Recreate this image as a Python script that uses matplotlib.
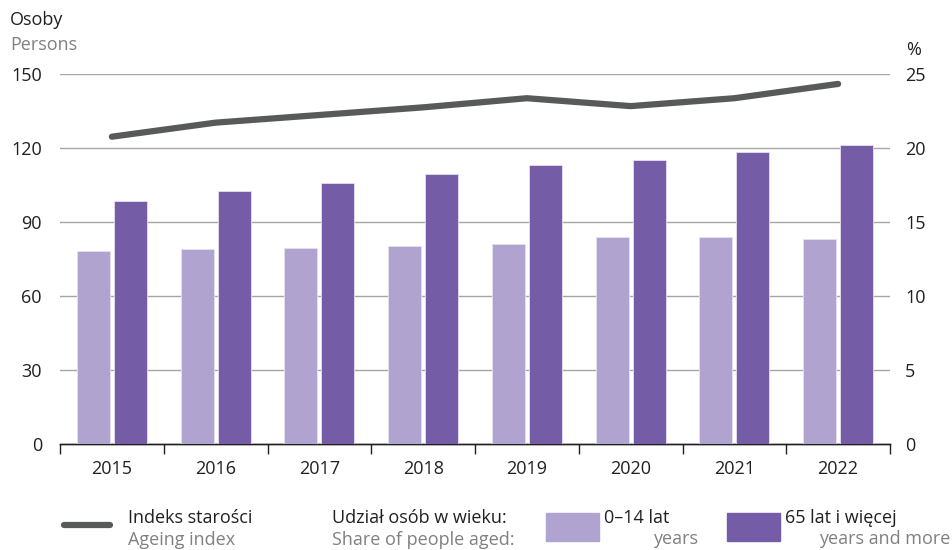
import numpy as np
import matplotlib
matplotlib.use("Agg")
import matplotlib.pyplot as plt
from matplotlib.patches import Rectangle
from matplotlib.lines import Line2D

# ============================================================
# DATA
# ============================================================
years = ["2015", "2016", "2017", "2018", "2019", "2020", "2021", "2022"]
ageing_index = [124.7, 130.4, 133.5, 136.6, 140.3, 137.1, 140.3, 146.1]   # persons
share_0_14 = [13.06, 13.18, 13.28, 13.40, 13.51, 14.00, 14.00, 13.87]     # %
share_65 = [16.42, 17.14, 17.63, 18.24, 18.85, 19.23, 19.75, 20.22]       # %

left_ticks = [0, 30, 60, 90, 120, 150]
right_ticks = [0, 5, 10, 15, 20, 25]

# ============================================================
# STYLE
# ============================================================
C_LIGHT = "#b0a3cf"
C_DARK = "#745ca6"
C_LINE = "#58595b"
C_GRID = "#a6a6a6"
C_GREY_TXT = "#808080"
FS = 13

plt.rcParams["font.family"] = ["Open Sans", "DejaVu Sans"]

W, H = 952, 550
fig = plt.figure(figsize=(W / 100, H / 100), dpi=100)

ax_l, ax_r, ax_b, ax_t = 60, 890, 444.3, 74.3
ax = fig.add_axes([ax_l / W, 1 - ax_b / H, (ax_r - ax_l) / W, (ax_b - ax_t) / H])
ax2 = ax.twinx()

x = np.arange(len(years))
bw = 0.318
off = 0.178

# bars on the % axis
ax2.bar(x - off, share_0_14, width=bw, color=C_LIGHT, edgecolor="#e6e0f0", linewidth=0.6, zorder=3)
ax2.bar(x + off, share_65, width=bw, color=C_DARK, edgecolor="#e6e0f0", linewidth=0.6, zorder=3)
ax2.set_ylim(0, 25)
ax2.set_yticks(right_ticks)

ax.set_ylim(0, 150)
ax.set_yticks(left_ticks)
# gridlines drawn on ax2 so they sit behind the bars
for v in left_ticks[1:]:
    ax2.axhline(v / 150 * 25, color=C_GRID, linewidth=1.0, zorder=1)

# ageing index line, rescaled from persons to the % axis so it stays on top
ax2.plot(x, np.array(ageing_index) / 150 * 25, color=C_LINE, linewidth=4.5,
         solid_capstyle="round", solid_joinstyle="round", zorder=5)

ax.set_xlim(-0.5, len(years) - 0.5)
ax.set_xticks(np.arange(-0.5, len(years), 1.0))
ax.set_xticklabels([])
ax.set_xticks(x, minor=True)
ax.set_xticklabels(years, minor=True, fontsize=FS, color="#231f20")
ax.tick_params(axis="x", which="major", length=7, width=1, color="#231f20", direction="out")
ax.tick_params(axis="x", which="minor", length=0, pad=11)

ax.tick_params(axis="y", length=0, pad=13, labelsize=FS, labelcolor="#231f20")
ax2.tick_params(axis="y", length=0, pad=11, labelsize=FS, labelcolor="#231f20")

for a in (ax, ax2):
    for s in ("top", "left", "right"):
        a.spines[s].set_visible(False)
    a.spines["bottom"].set_color("#231f20")
    a.spines["bottom"].set_linewidth(1.0)

# axis titles
fig.text(10 / W, 1 - 20 / H, "Osoby", fontsize=FS, color="#231f20", va="center", ha="left")
fig.text(10 / W, 1 - 45 / H, "Persons", fontsize=FS, color=C_GREY_TXT, va="center", ha="left")
fig.text(906 / W, 1 - 50 / H, "%", fontsize=FS, color="#231f20", va="center", ha="left")

# ============================================================
# LEGEND (manual)
# ============================================================
y1 = 1 - 518 / H
y2 = 1 - 540 / H
fig.add_artist(Line2D([64 / W, 110 / W], [1 - 525 / H, 1 - 525 / H], color=C_LINE,
                      linewidth=4.5, solid_capstyle="round", transform=fig.transFigure))
fig.text(128 / W, y1, "Indeks starości", fontsize=FS, color="#231f20", va="center")
fig.text(128 / W, y2, "Ageing index", fontsize=FS, color=C_GREY_TXT, va="center")

fig.text(332 / W, y1, "Udział osób w wieku:", fontsize=FS, color="#231f20", va="center")
fig.text(332 / W, y2, "Share of people aged:", fontsize=FS, color=C_GREY_TXT, va="center")

fig.add_artist(Rectangle((546 / W, 1 - 541 / H), 53 / W, 28 / H, color=C_LIGHT,
                         transform=fig.transFigure))
fig.text(604 / W, y1, "0–14 lat", fontsize=FS, color="#231f20", va="center")
fig.text(698 / W, 1 - 539 / H, "years", fontsize=FS, color=C_GREY_TXT, va="center", ha="right")

fig.add_artist(Rectangle((727 / W, 1 - 541 / H), 53 / W, 28 / H, color=C_DARK,
                         transform=fig.transFigure))
fig.text(785 / W, y1, "65 lat i więcej", fontsize=FS, color="#231f20", va="center")
fig.text(950 / W, 1 - 539 / H, "years and more", fontsize=FS, color=C_GREY_TXT, va="center", ha="right")

fig.savefig("out.png", dpi=100)
